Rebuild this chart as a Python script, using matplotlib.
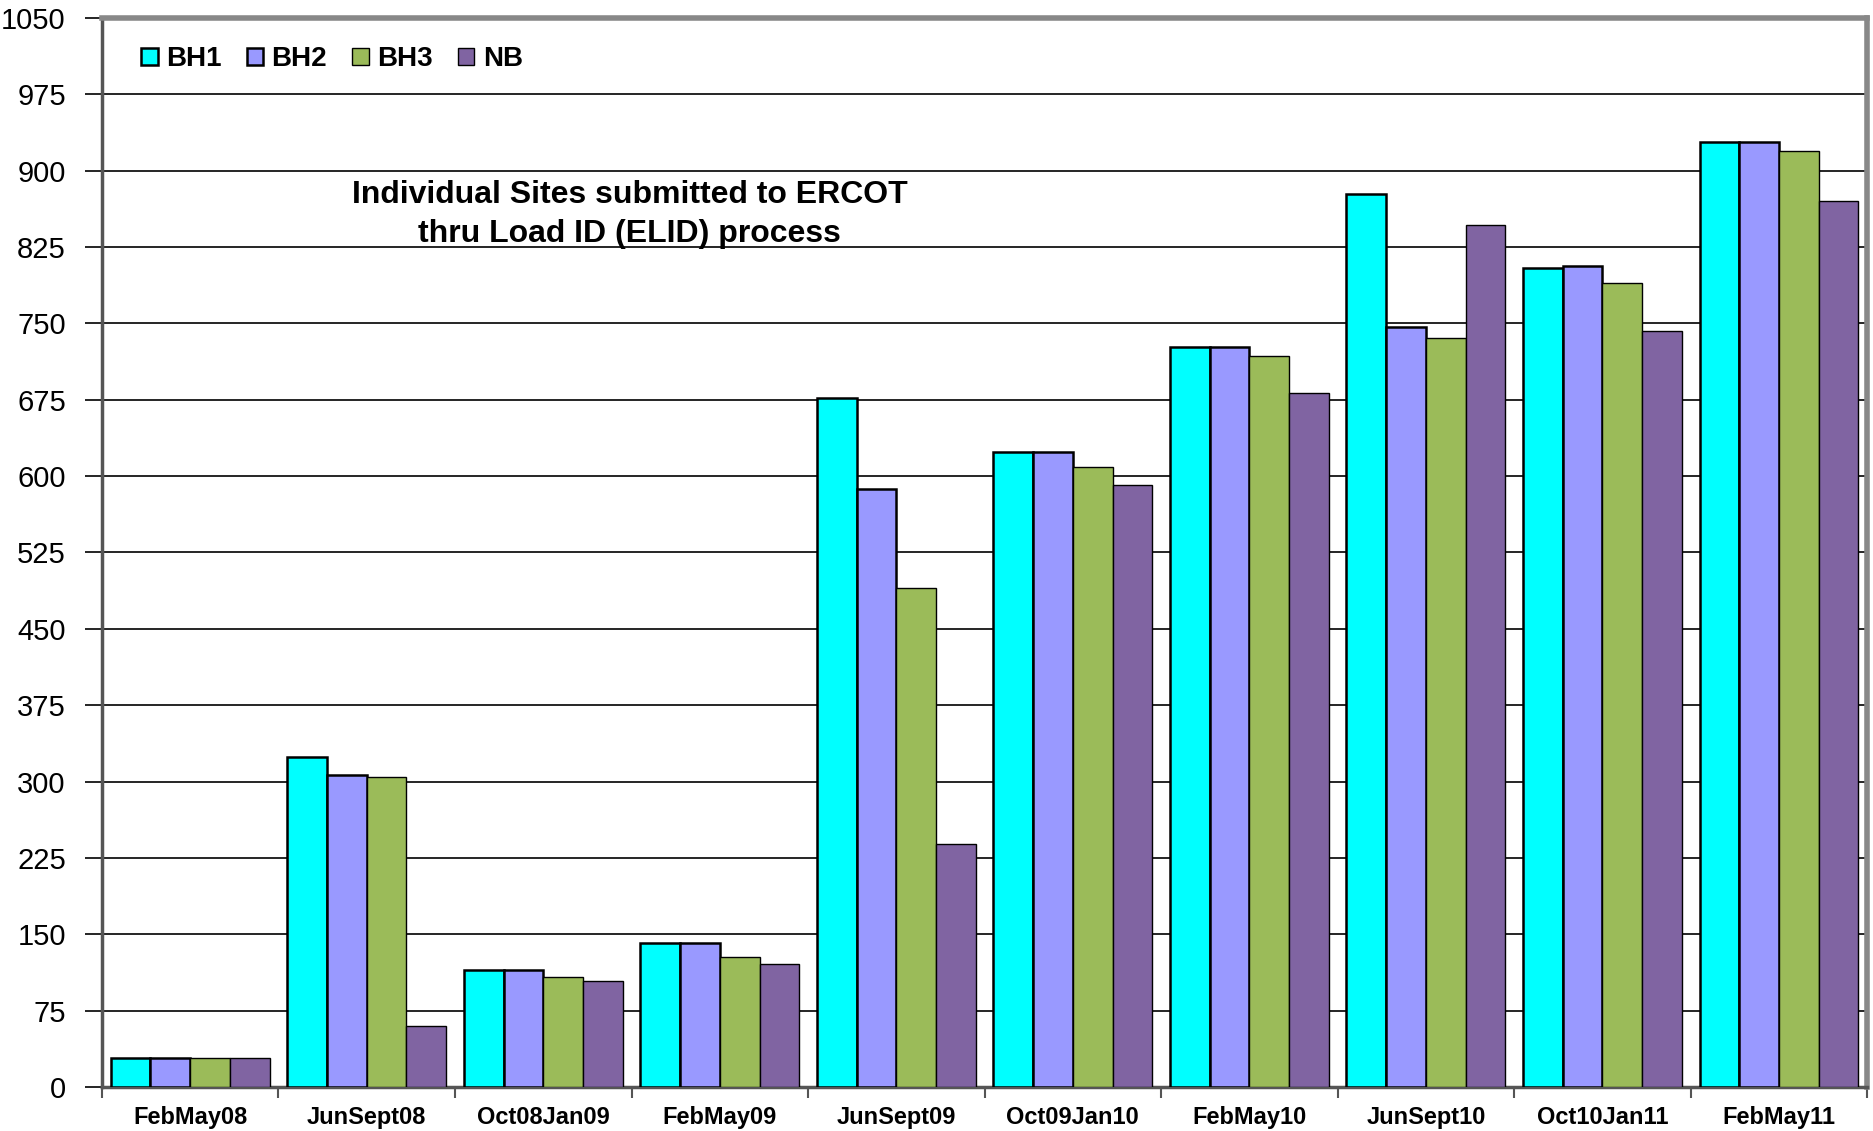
import matplotlib.pyplot as plt
import numpy as np

periods = ["FebMay08", "JunSept08", "Oct08Jan09", "FebMay09", "JunSept09",
           "Oct09Jan10", "FebMay10", "JunSept10", "Oct10Jan11", "FebMay11"]
bh1 = [28, 324, 115, 141, 677, 624, 727, 877, 804, 928]
bh2 = [28, 306, 115, 141, 587, 624, 727, 747, 806, 928]
bh3 = [28, 304, 108, 128, 490, 609, 718, 736, 790, 919]
nb = [28, 60, 104, 121, 239, 591, 682, 847, 743, 870]
series_names = ["BH1", "BH2", "BH3", "NB"]
yticks = list(range(0, 1051, 75))

colors = ["#00FFFF", "#9999FF", "#9BBB59", "#8064A2"]
edge_w = [1.8, 1.8, 1.0, 1.0]

plt.rcParams['font.family'] = ['Liberation Sans', 'DejaVu Sans']
fig = plt.figure(figsize=(18.74, 11.31), dpi=100)
ax = fig.add_axes([0.0544, 0.039, 0.942, 0.945])

x = np.arange(len(periods))
w = 0.225
for i, vals in enumerate([bh1, bh2, bh3, nb]):
    ax.bar(x + (i - 1.5) * w, vals, w, color=colors[i], edgecolor="black",
           linewidth=edge_w[i], label=series_names[i], zorder=3)

ax.set_xlim(-0.5, len(periods) - 0.5)
ax.set_ylim(0, 1050)
ax.set_yticks(yticks)
ax.set_yticklabels([str(v) for v in yticks], fontsize=21)
ax.yaxis.grid(True, color="black", linewidth=1.2, zorder=0)

ax.set_xticks(x)
ax.set_xticklabels(periods, fontsize=17, fontweight="bold")
ax.set_xticks(np.arange(-0.5, len(periods)), minor=True)
ax.tick_params(axis="x", which="major", length=0, pad=14)
ax.tick_params(axis="x", which="minor", length=8, width=1.5, color="#555555")
ax.tick_params(axis="y", length=12, width=1.2, pad=14)

for s in ["top", "right"]:
    ax.spines[s].set_color("#888888")
    ax.spines[s].set_linewidth(4)
ax.spines["left"].set_color("#555555")
ax.spines["left"].set_linewidth(2.5)
ax.spines["bottom"].set_color("#555555")
ax.spines["bottom"].set_linewidth(2.5)

leg = ax.legend(loc="upper left", ncol=4, frameon=False,
                prop={"weight": "bold", "size": 20}, bbox_to_anchor=(0.008, 0.997),
                handlelength=0.6, handleheight=0.6, handletextpad=0.3, columnspacing=0.9)

ax.text(0.299, 0.816, "Individual Sites submitted to ERCOT\nthru Load ID (ELID) process",
        transform=ax.transAxes, ha="center", va="center", fontsize=23,
        fontweight="bold", linespacing=1.38)

fig.savefig("out.png", dpi=100)
